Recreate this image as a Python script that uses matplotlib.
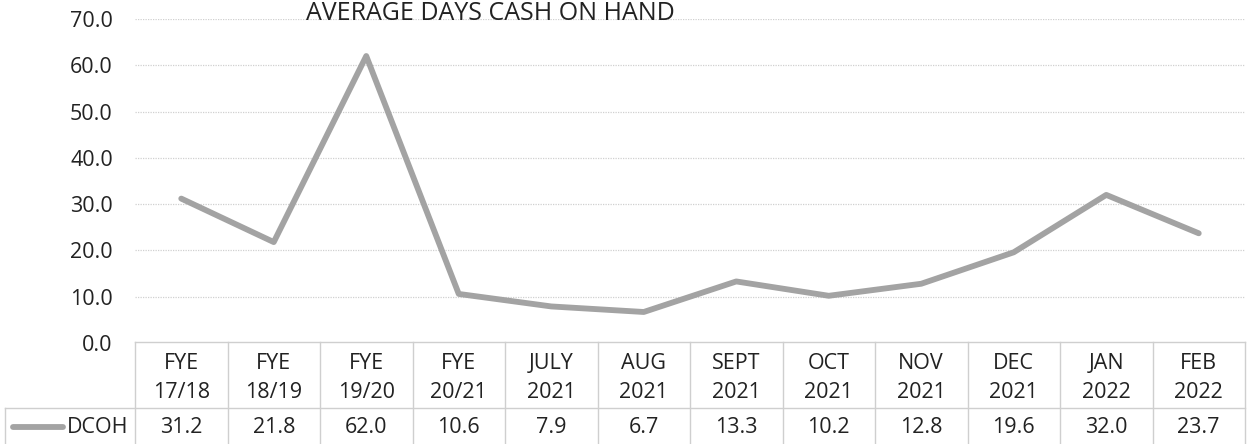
import matplotlib
matplotlib.use("Agg")
import matplotlib.pyplot as plt
from matplotlib.lines import Line2D

plt.rcParams['font.family'] = ['Open Sans', 'DejaVu Sans']

title = "AVERAGE DAYS CASH ON HAND"
cat_top = ["FYE", "FYE", "FYE", "FYE", "JULY", "AUG", "SEPT", "OCT", "NOV", "DEC", "JAN", "FEB"]
cat_bot = ["17/18", "18/19", "19/20", "20/21", "2021", "2021", "2021", "2021", "2021", "2021", "2022", "2022"]
series_name = "DCOH"
dcoh = [31.2, 21.8, 62.0, 10.6, 7.9, 6.7, 13.3, 10.2, 12.8, 19.6, 32.0, 23.7]
yticks = [0, 10, 20, 30, 40, 50, 60, 70]

W, H = 1247, 444
fig = plt.figure(figsize=(W/100, H/100), dpi=100)
x0, x1 = 135, 1245
ytop, ybot = 19, 343
ax = fig.add_axes([x0/W, 1-ybot/H, (x1-x0)/W, (ybot-ytop)/H])
n = len(dcoh)
xs = list(range(n))
ax.plot(xs, dcoh, color='#a3a3a3', lw=4.2, solid_joinstyle='round', solid_capstyle='round')
ax.set_xlim(-0.5, n-0.5)
ax.set_ylim(0, 70)
ax.set_yticks(yticks)
ax.set_yticklabels([f"{v:.1f}" for v in yticks], fontsize=15.5, color='#222222')
ax.tick_params(axis='y', length=0, pad=16)
ax.set_xticks([])
for s in ax.spines.values():
    s.set_visible(False)
ax.grid(axis='y', color='#d0d0d0', lw=0.9, ls=(0, (1, 1)))
ax.set_axisbelow(True)

# title near the top edge
fig.text(490/W, 1-0.5/H, title, ha='center', va='top', fontsize=18, color='#222222')

def fx(px):
    return px / W
def fy(py):
    return 1 - py / H

gc = '#cfcfcf'
colw = (x1 - x0) / n
fig.add_artist(Line2D([fx(x0), fx(x1)], [fy(342), fy(342)], color=gc, lw=1))
fig.add_artist(Line2D([fx(5), fx(x1)], [fy(408), fy(408)], color=gc, lw=1))
for i in range(n + 1):
    xp = x0 + i * colw
    fig.add_artist(Line2D([fx(xp), fx(xp)], [fy(342), fy(444)], color=gc, lw=1))
fig.add_artist(Line2D([fx(5), fx(5)], [fy(408), fy(444)], color=gc, lw=1))

fs = 15.5
for i in range(n):
    xc = x0 + (i + 0.5) * colw
    fig.text(fx(xc), fy(363), cat_top[i], ha='center', va='center', fontsize=fs, color='#222222')
    fig.text(fx(xc), fy(392), cat_bot[i], ha='center', va='center', fontsize=fs, color='#222222')
    fig.text(fx(xc), fy(427), f"{dcoh[i]:.1f}", ha='center', va='center', fontsize=fs, color='#222222')

fig.add_artist(Line2D([fx(13), fx(63)], [fy(427), fy(427)], color='#a3a3a3', lw=4.2, solid_capstyle='round'))
fig.text(fx(67), fy(427), series_name, ha='left', va='center', fontsize=fs, color='#222222')

fig.savefig("out.png", dpi=100)
